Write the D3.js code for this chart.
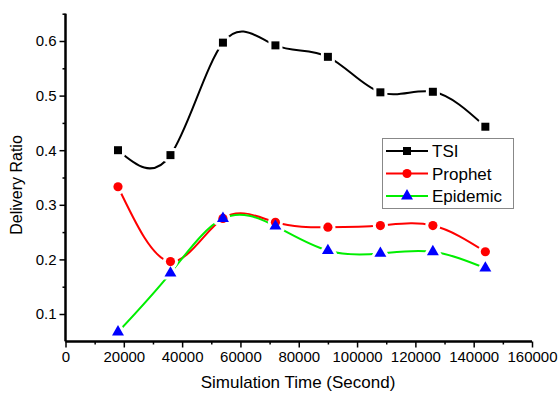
<!DOCTYPE html>
<html><head><meta charset="utf-8">
<script src="https://cdn.jsdelivr.net/npm/d3@7"></script>
<style>body{margin:0;background:#fff}svg{display:block}</style>
</head><body>
<svg id="c" width="558" height="394"></svg>
<script>
const times = [18000, 36000, 54000, 72000, 90000, 108000, 126000, 144000];
const tsi = [0.400, 0.391, 0.597, 0.592, 0.571, 0.506, 0.507, 0.443];
const prophet = [0.333, 0.196, 0.275, 0.268, 0.259, 0.262, 0.262, 0.214];
const epidemic = [0.067, 0.175, 0.275, 0.261, 0.216, 0.211, 0.214, 0.184];
const xTicks = [0, 20000, 40000, 60000, 80000, 100000, 120000, 140000, 160000];
const yTicks = [0.1, 0.2, 0.3, 0.4, 0.5, 0.6];
const seriesNames = ["TSI", "Prophet", "Epidemic"];

const series = [
  {name: seriesNames[0], vals: tsi, line: "#000000", mark: "#000000", sym: d3.symbolSquare, size: 64},
  {name: seriesNames[1], vals: prophet, line: "#ff0000", mark: "#ff0000", sym: d3.symbolCircle, size: 66},
  {name: seriesNames[2], vals: epidemic, line: "#00ee00", mark: "#0000ff", sym: d3.symbolTriangle, size: 62}
];

const svg = d3.select("#c");
const font = "'Liberation Sans', Arial, sans-serif";
const x = d3.scaleLinear().domain([0, 160000]).range([65.5, 532]);
const y = d3.scaleLinear().domain([0.05, 0.65]).range([341.3, 13.7]);

// lines
const line = d3.line().x((d, i) => x(times[i])).y(d => y(d)).curve(d3.curveNatural);
series.forEach(s => {
  svg.append("path").attr("d", line(s.vals)).attr("fill", "none")
    .attr("stroke", s.line).attr("stroke-width", 2);
});
// white halos (gaps in lines around markers)
series.forEach(s => {
  const sym = d3.symbol().type(s.sym).size(s.size);
  svg.append("g").selectAll("path").data(s.vals).join("path")
    .attr("transform", (d, i) => `translate(${x(times[i])},${y(d)})`)
    .attr("d", sym())
    .attr("fill", "#fff").attr("stroke", "#fff").attr("stroke-width", 6)
    .attr("stroke-linejoin", "round");
});
// markers
series.forEach(s => {
  const sym = d3.symbol().type(s.sym).size(s.size);
  svg.append("g").selectAll("path").data(s.vals).join("path")
    .attr("transform", (d, i) => `translate(${x(times[i])},${y(d)})`)
    .attr("d", sym())
    .attr("fill", s.mark);
});

// axes
const xAxis = svg.append("g").attr("transform", "translate(0,341.5)")
  .call(d3.axisBottom(x).tickValues(xTicks).tickFormat(d3.format("d")).tickSize(6).tickPadding(4));
const xMinor = svg.append("g").attr("transform", "translate(0,341.5)")
  .call(d3.axisBottom(x).tickValues(d3.range(10000, 160000, 20000)).tickFormat("").tickSize(3));
const yAxis = svg.append("g").attr("transform", "translate(65.5,0)")
  .call(d3.axisLeft(y).tickValues(yTicks).tickFormat(d3.format(".1f")).tickSize(6).tickPadding(3));
const yMinor = svg.append("g").attr("transform", "translate(65.5,0)")
  .call(d3.axisLeft(y).tickValues([0.15, 0.25, 0.35, 0.45, 0.55, 0.65]).tickFormat("").tickSize(3));
[xAxis, xMinor, yAxis, yMinor].forEach(g => {
  g.select(".domain").attr("stroke", "#000").attr("stroke-width", 2).attr("d",
    g === xAxis || g === xMinor ? `M${x(0)},0H${x(160000)}` : `M0,${y(0.05)}V${y(0.65)}`);
  g.selectAll(".tick line").attr("stroke", "#000").attr("stroke-width", 1.5);
  g.selectAll("text").attr("font-family", font).attr("font-size", 15).attr("fill", "#000");
});

// titles
svg.append("text").attr("x", 298).attr("y", 388).attr("text-anchor", "middle")
  .attr("font-family", font).attr("font-size", 17).text("Simulation Time (Second)");
svg.append("text").attr("transform", "translate(22,185) rotate(-90)").attr("text-anchor", "middle")
  .attr("font-family", font).attr("font-size", 16).text("Delivery Ratio");

// legend
const lg = svg.append("g");
lg.append("rect").attr("x", 382.5).attr("y", 138.5).attr("width", 131).attr("height", 70)
  .attr("fill", "#fff").attr("stroke", "#888").attr("stroke-width", 1);
series.forEach((s, i) => {
  const yy = 151 + i * 22.5;
  lg.append("line").attr("x1", 386).attr("x2", 428).attr("y1", yy).attr("y2", yy)
    .attr("stroke", s.line).attr("stroke-width", 2);
  lg.append("path").attr("transform", `translate(407,${yy})`)
    .attr("d", d3.symbol().type(s.sym).size(s.size)()).attr("fill", s.mark);
  lg.append("text").attr("x", 432).attr("y", yy + 6).attr("font-family", font)
    .attr("font-size", 17).text(s.name);
});
</script>
</body></html>
